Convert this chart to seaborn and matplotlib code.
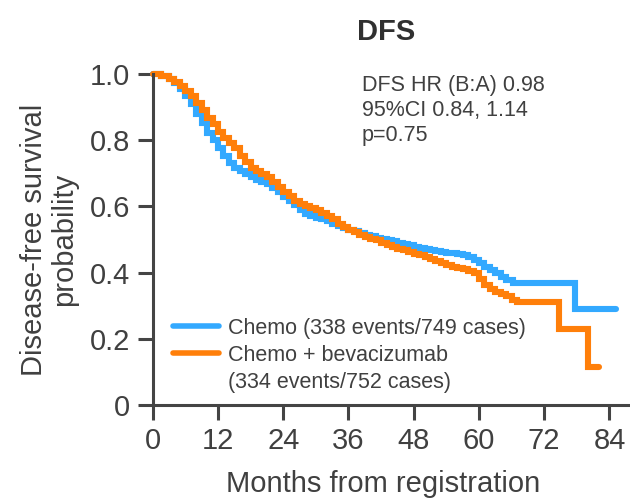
import pandas as pd
import matplotlib.pyplot as plt
import seaborn as sns
from matplotlib.lines import Line2D

# Kaplan-Meier DFS curves (months, survival probability)
chemo_months = [0, 1.5, 3, 4, 5, 6, 7, 8, 9, 10, 11, 12, 13, 14, 15, 16, 17, 18, 19, 20,
                21, 22, 23, 24, 25, 26, 27, 28, 29, 30, 31, 32, 33, 34, 35, 36, 37, 38, 39, 40,
                41, 42, 43, 44, 45, 46, 47, 48, 49, 50, 51, 52, 53, 54, 55, 56, 57, 58, 59, 60,
                61, 62, 63, 64, 65, 66.3, 77.7, 85.2]
chemo_surv = [1.000, 0.995, 0.985, 0.972, 0.955, 0.935, 0.908, 0.880, 0.852, 0.823, 0.800, 0.776,
              0.752, 0.730, 0.715, 0.708, 0.697, 0.688, 0.680, 0.674, 0.668, 0.655, 0.642, 0.628,
              0.615, 0.603, 0.590, 0.578, 0.571, 0.566, 0.561, 0.556, 0.548, 0.542, 0.536, 0.530,
              0.525, 0.520, 0.515, 0.510, 0.505, 0.501, 0.497, 0.494, 0.490, 0.486, 0.482, 0.478,
              0.474, 0.470, 0.467, 0.464, 0.462, 0.460, 0.459, 0.457, 0.452, 0.446, 0.438, 0.428,
              0.418, 0.408, 0.398, 0.388, 0.378, 0.368, 0.289, 0.289]

bev_months = [0, 1.5, 3, 4, 5, 6, 7, 8, 9, 10, 11, 12, 13, 14, 15, 16, 17, 18, 19, 20,
              21, 22, 23, 24, 25, 26, 27, 28, 29, 30, 31, 32, 33, 34, 35, 36, 37, 38, 39, 40,
              41, 42, 43, 44, 45, 46, 47, 48, 49, 50, 51, 52, 53, 54, 55, 56, 57, 58, 59, 60,
              61, 62, 63, 64, 65, 66, 67, 74.7, 80.1, 82.0]
bev_surv = [1.000, 0.995, 0.985, 0.975, 0.965, 0.950, 0.933, 0.912, 0.890, 0.868, 0.848, 0.826,
            0.808, 0.792, 0.775, 0.752, 0.733, 0.717, 0.707, 0.697, 0.688, 0.675, 0.660, 0.642,
            0.630, 0.617, 0.606, 0.600, 0.595, 0.589, 0.580, 0.572, 0.562, 0.548, 0.537, 0.530,
            0.522, 0.515, 0.508, 0.502, 0.497, 0.490, 0.484, 0.478, 0.472, 0.467, 0.461, 0.456,
            0.452, 0.447, 0.441, 0.434, 0.428, 0.422, 0.418, 0.415, 0.411, 0.406, 0.398, 0.380,
            0.364, 0.350, 0.342, 0.335, 0.328, 0.318, 0.310, 0.230, 0.115, 0.115]

arm_names = ["Chemo", "Chemo + bevacizumab"]
legend_labels = ["Chemo (338 events/749 cases)", "Chemo + bevacizumab", "(334 events/752 cases)"]
x_ticks = [0, 12, 24, 36, 48, 60, 72, 84]
y_ticks = [0, 0.2, 0.4, 0.6, 0.8, 1.0]
y_ticklabels = ["0", "0.2", "0.4", "0.6", "0.8", "1.0"]
stats_text = "DFS HR (B:A) 0.98\n95%CI 0.84, 1.14\np=0.75"

df = pd.concat([
    pd.DataFrame({"months": chemo_months, "surv": chemo_surv, "arm": arm_names[0]}),
    pd.DataFrame({"months": bev_months, "surv": bev_surv, "arm": arm_names[1]}),
])

sns.set_style("white")
plt.rcParams["font.family"] = ["Liberation Sans", "DejaVu Sans"]
text_col = "#404040"
axis_col = "#444444"
colors = {"Chemo": "#33a9ff", "Chemo + bevacizumab": "#ff7f0a"}

fig = plt.figure(figsize=(6.3, 4.99), dpi=100)
ax = fig.add_axes([0.2424, 0.1884, 0.7544, 0.6633])

sns.lineplot(data=df, x="months", y="surv", hue="arm", palette=colors, estimator=None,
             sort=False, drawstyle="steps-post", linewidth=4.4, legend=False, ax=ax,
             clip_on=False, solid_joinstyle="miter")

ax.set_xlim(0, 87.4)
ax.set_ylim(0, 1.0)
ax.set_xticks(x_ticks)
ax.set_yticks(y_ticks)
ax.set_yticklabels(y_ticklabels)
for side in ["top", "right"]:
    ax.spines[side].set_visible(False)
for side in ["left", "bottom"]:
    ax.spines[side].set_color(axis_col)
    ax.spines[side].set_linewidth(2.2)
ax.tick_params(axis="both", direction="out", length=11, width=2.2, color=axis_col,
               labelsize=21, labelcolor=text_col, pad=5, left=True, bottom=True)

ax.set_xlabel("Months from registration", fontsize=21, color=text_col)
ax.xaxis.set_label_coords(0.485, -0.197)
ax.set_ylabel("Disease-free survival\nprobability", fontsize=21, color=text_col, linespacing=1.1)
ax.yaxis.set_label_coords(-0.157, 0.5)

fig.text(386.5 / 630, 1 - 40 / 499, "DFS", ha="center", va="baseline", fontsize=21,
         fontweight="bold", color="#303030")
fig.text(362 / 630, 1 - 75 / 499, stats_text, ha="left", va="top", fontsize=15.5,
         color=text_col, linespacing=1.25)

handles = [Line2D([], [], color=colors["Chemo"], lw=4.0),
           Line2D([], [], color=colors["Chemo + bevacizumab"], lw=4.0),
           Line2D([], [], color="none")]
leg = ax.legend(handles, legend_labels, loc="upper left",
                bbox_to_anchor=(173 / 630, 1 - 318 / 499), bbox_transform=fig.transFigure,
                frameon=False, fontsize=15.5, borderpad=0, borderaxespad=0,
                handlelength=2.15, handletextpad=0.42, labelspacing=0.27)
for t in leg.get_texts():
    t.set_color(text_col)

fig.savefig("out.png", dpi=100)
